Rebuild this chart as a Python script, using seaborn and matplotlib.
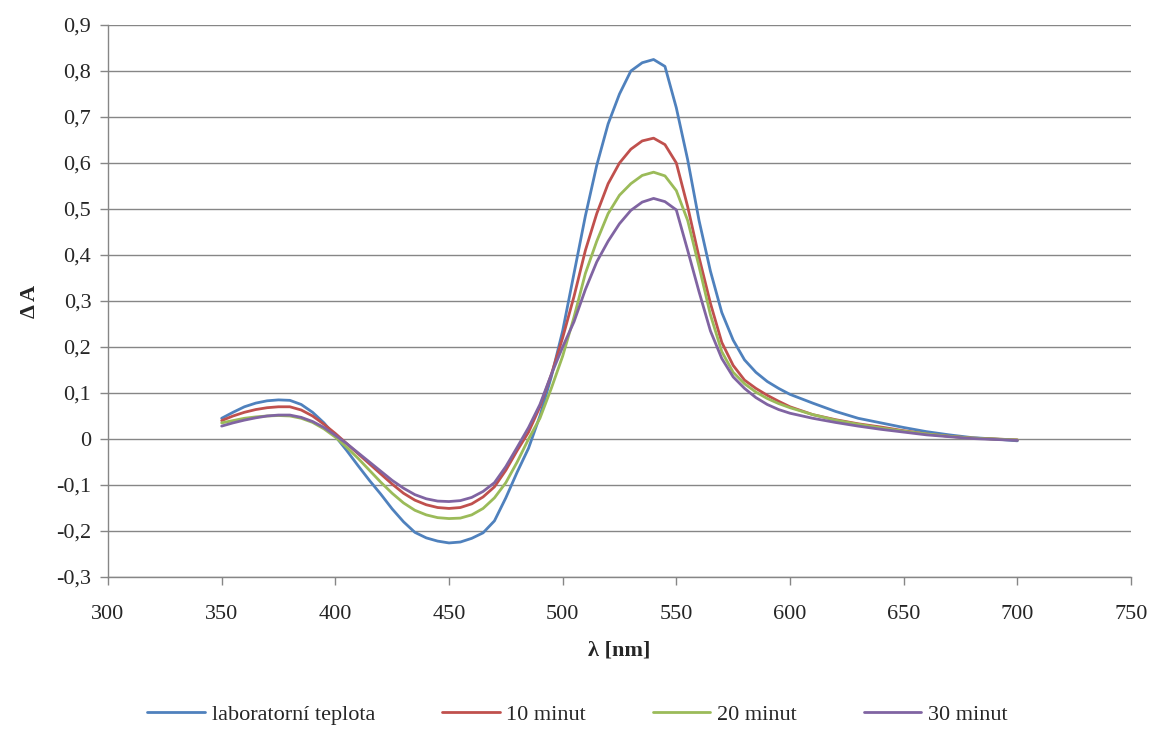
import numpy as np
import pandas as pd
import matplotlib
matplotlib.use("Agg")
import matplotlib.pyplot as plt
from matplotlib.ticker import FuncFormatter, MultipleLocator
import seaborn as sns

# wavelength grid [nm]
wavelength = [350, 355, 360, 365, 370, 375, 380, 385, 390, 395, 400, 405, 410, 415,
              420, 425, 430, 435, 440, 445, 450, 455, 460, 465, 470, 475, 480,
              485, 490, 495, 500, 505, 510, 515, 520, 525, 530, 535, 540, 545, 550,
              555, 560, 565, 570, 575, 580, 585, 590, 595, 600, 610, 620, 630, 640,
              650, 660, 670, 680, 690, 700]

lab_temp = [0.045, 0.058, 0.070, 0.078, 0.083, 0.085, 0.084, 0.075, 0.058, 0.035,
            0.006, -0.025, -0.058, -0.090, -0.120, -0.152, -0.180, -0.203, -0.215,
            -0.222, -0.226, -0.224, -0.216, -0.204, -0.178, -0.128, -0.072,
            -0.020, 0.050, 0.135, 0.235, 0.360, 0.485, 0.595, 0.685, 0.750, 0.800,
            0.818, 0.825, 0.810, 0.720, 0.607, 0.475, 0.365, 0.275, 0.215, 0.172,
            0.145, 0.125, 0.110, 0.097, 0.078, 0.060, 0.045, 0.035, 0.025, 0.016,
            0.009, 0.003, 0.000, -0.004]

min10 = [0.040, 0.050, 0.058, 0.064, 0.068, 0.070, 0.070, 0.063, 0.050, 0.032,
         0.012, -0.010, -0.032, -0.054, -0.076, -0.098, -0.118, -0.133, -0.143,
         -0.149, -0.151, -0.149, -0.141, -0.126, -0.104, -0.068, -0.025,
         0.015, 0.070, 0.140, 0.220, 0.310, 0.410, 0.490, 0.555, 0.600, 0.630,
         0.648, 0.654, 0.640, 0.600, 0.505, 0.395, 0.295, 0.210, 0.160, 0.128,
         0.110, 0.095, 0.082, 0.070, 0.053, 0.042, 0.033, 0.026, 0.018, 0.011,
         0.006, 0.002, 0.000, -0.002]

min20 = [0.035, 0.040, 0.045, 0.048, 0.050, 0.051, 0.050, 0.045, 0.036, 0.022,
         0.004, -0.018, -0.042, -0.068, -0.094, -0.118, -0.139, -0.155, -0.165,
         -0.171, -0.173, -0.172, -0.165, -0.151, -0.128, -0.095, -0.050,
         0.000, 0.045, 0.110, 0.180, 0.265, 0.360, 0.430, 0.490, 0.530, 0.555,
         0.573, 0.580, 0.572, 0.540, 0.475, 0.375, 0.270, 0.190, 0.145, 0.120,
         0.102, 0.088, 0.077, 0.068, 0.053, 0.041, 0.032, 0.024, 0.017, 0.011,
         0.006, 0.002, 0.000, -0.002]

min30 = [0.028, 0.035, 0.041, 0.046, 0.050, 0.052, 0.052, 0.047, 0.038, 0.025,
         0.008, -0.010, -0.030, -0.050, -0.070, -0.090, -0.107, -0.121, -0.130,
         -0.135, -0.136, -0.134, -0.127, -0.114, -0.095, -0.060, -0.018,
         0.025, 0.075, 0.140, 0.200, 0.255, 0.325, 0.385, 0.430, 0.468, 0.497,
         0.515, 0.523, 0.516, 0.498, 0.410, 0.320, 0.235, 0.175, 0.135, 0.110,
         0.090, 0.075, 0.064, 0.056, 0.045, 0.036, 0.028, 0.021, 0.015, 0.009,
         0.005, 0.001, -0.001, -0.003]

series_names = ["laboratorní teplota", "10 minut", "20 minut", "30 minut"]
colors = ["#4F81BD", "#C0504D", "#9BBB59", "#8064A2"]

frames = []
for name, vals in zip(series_names, [lab_temp, min10, min20, min30]):
    frames.append(pd.DataFrame({"wl": wavelength, "dA": vals, "serie": name}))
df = pd.concat(frames, ignore_index=True)

sns.set_style("white")
plt.rcParams["font.family"] = ["Liberation Serif", "DejaVu Serif"]

fig = plt.figure(figsize=(11.55, 7.31), dpi=100)
ax = fig.add_axes([0.0935, 0.2107, 0.8857, 0.7551])

sns.lineplot(ax=ax, data=df, x="wl", y="dA", hue="serie", hue_order=series_names,
             palette=colors, linewidth=2, legend=False, sort=False)

ax.set_xlim(300, 750)
ax.set_ylim(-0.3, 0.9)
ax.xaxis.set_major_locator(MultipleLocator(50))
ax.yaxis.set_major_locator(MultipleLocator(0.1))
ax.yaxis.set_major_formatter(FuncFormatter(lambda v, p: ("%g" % round(v, 2)).replace(".", ",")))

ax.grid(axis="y", color="#868686", linewidth=1)
ax.grid(axis="x", visible=False)
ax.set_axisbelow(True)
for side in ["top", "right"]:
    ax.spines[side].set_visible(False)
for side in ["left", "bottom"]:
    ax.spines[side].set_color("#868686")
    ax.spines[side].set_linewidth(1)
ax.tick_params(axis="both", direction="out", length=6, width=1, color="#868686",
               labelsize=16, left=True, bottom=True)
ax.tick_params(axis="x", pad=14)
ax.tick_params(axis="y", pad=6)

ax.set_xlabel("λ [nm]", fontsize=16, fontweight="bold", labelpad=12)
ax.set_ylabel("Δ A", fontsize=16, fontweight="bold", labelpad=12)

handles = [plt.Line2D([], [], color=c, linewidth=2) for c in colors]
fig.legend(handles, series_names, loc="center", bbox_to_anchor=(0.5, 0.022), ncol=4,
           frameon=False, fontsize=16, handlelength=2.6, handletextpad=0.3,
           columnspacing=3.0)

fig.savefig("out.png", dpi=100)
